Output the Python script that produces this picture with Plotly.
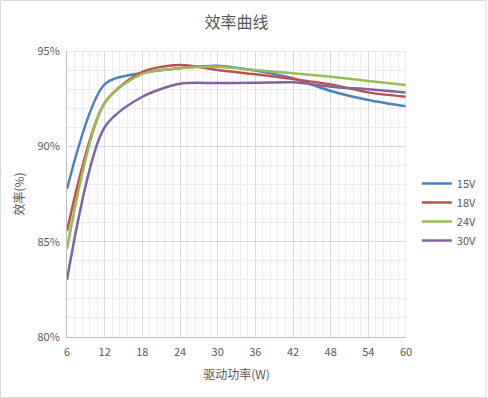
import plotly.graph_objects as go

power_w = [6, 12, 18, 24, 30, 36, 42, 48, 54, 60]
eff_15v = [87.76, 93.25, 93.85, 94.1, 94.23, 93.97, 93.57, 92.9, 92.43, 92.1]
eff_18v = [85.56, 92.27, 93.9, 94.27, 94.0, 93.78, 93.53, 93.25, 92.83, 92.6]
eff_24v = [84.62, 92.27, 93.8, 94.1, 94.18, 94.0, 93.83, 93.65, 93.43, 93.22]
eff_30v = [83.0, 91.0, 92.6, 93.28, 93.32, 93.33, 93.36, 93.13, 92.99, 92.82]
series_names = ["15V", "18V", "24V", "30V"]
colors = ["#4F81BD", "#C0504D", "#9BBB59", "#8064A2"]

fig = go.Figure()
for name, ys, c in zip(series_names, [eff_15v, eff_18v, eff_24v, eff_30v], colors):
    fig.add_trace(go.Scatter(
        x=power_w, y=ys, name=name, mode="lines",
        line=dict(color=c, width=2.5, shape="spline", smoothing=0.8),
    ))

font_fam = "Noto Sans CJK SC, Noto Sans, sans-serif"
txt = "#595959"
fig.update_layout(
    width=488, height=398,
    margin=dict(l=67, r=82, t=51, b=61, autoexpand=False),
    paper_bgcolor="white", plot_bgcolor="white",
    font=dict(family=font_fam, size=11, color=txt),
    title=dict(text="效率曲线", x=0.5, xref="paper", y=1 - 22/398, yanchor="middle",
               font=dict(size=16, color=txt, family=font_fam)),
    showlegend=True,
    legend=dict(x=0.032, xref="paper", y=0.437, xanchor="left", yanchor="middle",
                font=dict(size=11, color=txt), itemwidth=30,
                tracegroupgap=0, bgcolor="rgba(0,0,0,0)"),
    xaxis=dict(range=[6, 60], tickmode="linear", tick0=6, dtick=6,
               showgrid=True, gridcolor="#D9D9D9", gridwidth=1,
               minor=dict(dtick=1.2, tick0=6, showgrid=True, gridcolor="#EDEDED"),
               showline=True, linecolor="#BFBFBF", zeroline=False,
               ticks="", ticklen=0, ticklabelstandoff=5,
               title=dict(text="驱动功率(W)", font=dict(size=12, color=txt), standoff=12),
               tickfont=dict(size=11, color=txt)),
    yaxis=dict(range=[80, 95], tickmode="linear", tick0=80, dtick=5,
               ticksuffix="%", showgrid=True, gridcolor="#D9D9D9", gridwidth=1,
               minor=dict(dtick=1, tick0=80, showgrid=True, gridcolor="#EDEDED"),
               showline=True, linecolor="#BFBFBF", zeroline=False,
               ticks="", ticklen=0, ticklabelstandoff=4,
               title=dict(text="效率(%)", font=dict(size=12, color=txt), standoff=10),
               tickfont=dict(size=11, color=txt)),
)
fig.update_layout(legend_x=1.032)
fig.add_shape(type="line", xref="x", yref="paper", x0=60, x1=60, y0=0, y1=1,
              line=dict(color="#D9D9D9", width=1))
fig.add_shape(type="line", xref="paper", yref="y", x0=0, x1=1, y0=95, y1=95,
              line=dict(color="#D9D9D9", width=1))
# outer chart border
fig.add_shape(type="rect", xref="paper", yref="paper",
              x0=-66.5/339, x1=(486-67)/339, y0=-60.5/286, y1=(51-0.5)/286 + 1,
              line=dict(color="#D9D9D9", width=1), layer="below")
fig.write_html("out.html", config={"displayModeBar": False},
               post_script="document.body.style.margin='0';document.body.style.overflow='hidden';")
